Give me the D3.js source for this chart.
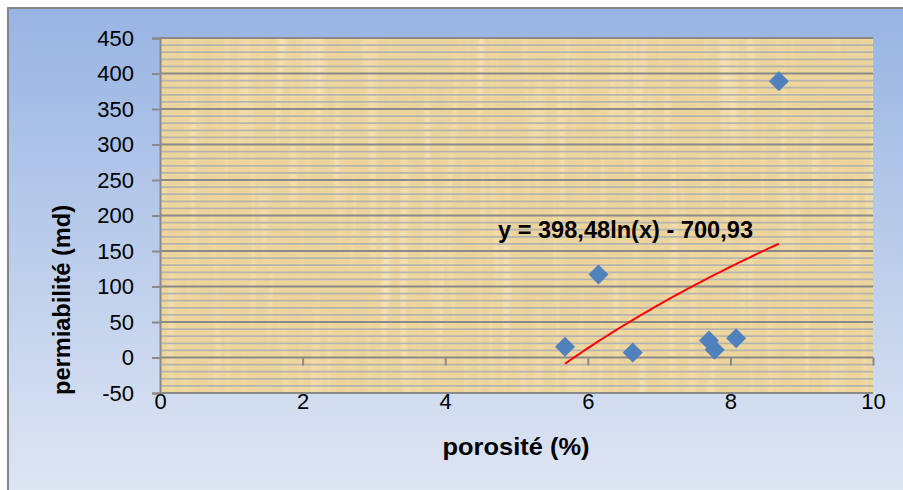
<!DOCTYPE html>
<html lang="fr">
<head>
<meta charset="UTF-8">
<title>perméabilité vs porosité</title>
<script src="https://d3js.org/d3.v7.min.js"></script>
<style>
  body { margin: 0; background: #fff; }
  svg { display: block; font-family: "Liberation Sans", Arial, sans-serif; }
</style>
</head>
<body>
<svg id="chart" width="903" height="490"></svg>
<script>
// data
const porosity = [5.68, 6.15, 6.63, 7.70, 7.78, 8.08, 8.68];
const permeability = [15, 117, 7, 24, 11, 27, 389];
const xTicks = [0, 2, 4, 6, 8, 10];
const yTicks = [-50, 0, 50, 100, 150, 200, 250, 300, 350, 400, 450];
// log trendline y = a ln(x) + b (as printed on the chart)
const trendA = 398.48, trendB = -700.93;
const trendLabel = "y = 398,48ln(x) - 700,93";

const svg = d3.select("#chart");
const defs = svg.append("defs");

// chart background gradient
const bg = defs.append("linearGradient").attr("id", "bg").attr("x1", 0).attr("y1", 0).attr("x2", 0).attr("y2", 1);
bg.append("stop").attr("offset", "0%").attr("stop-color", "#98b4e3");
bg.append("stop").attr("offset", "100%").attr("stop-color", "#dfe6f3");

// parchment-ish texture for the plot area
const tex = defs.append("filter").attr("id", "paper").attr("x", 0).attr("y", 0).attr("width", 1).attr("height", 1);
tex.append("feTurbulence").attr("type", "fractalNoise").attr("baseFrequency", "0.09 0.006")
    .attr("numOctaves", 2).attr("seed", 4).attr("result", "n");
tex.append("feColorMatrix").attr("in", "n").attr("type", "matrix")
    .attr("values", "0 0 0 0 0.80  0 0 0 0 0.64  0 0 0 0 0.36  1.6 0 0 0 -0.70").attr("result", "dark");
tex.append("feColorMatrix").attr("in", "n").attr("type", "matrix")
    .attr("values", "0 0 0 0 0.99  0 0 0 0 0.92  0 0 0 0 0.74  -1.6 0 0 0 0.74").attr("result", "light");
tex.append("feMerge").call(m => {
  m.append("feMergeNode").attr("in", "dark");
  m.append("feMergeNode").attr("in", "light");
});

// outer area
svg.append("rect").attr("x", 8).attr("y", 8).attr("width", 903).attr("height", 490)
    .attr("fill", "url(#bg)").attr("stroke", "#858585").attr("stroke-width", 2);

const plotL = 160, plotR = 873, plotT = 38, plotB = 393;
const x = d3.scaleLinear().domain([0, 10]).range([plotL, plotR]);
const y = d3.scaleLinear().domain([-50, 450]).range([plotB, plotT]);

// plot area
svg.append("rect").attr("x", plotL).attr("y", plotT).attr("width", plotR - plotL).attr("height", plotB - plotT)
    .attr("fill", "#eed59c");
svg.append("rect").attr("x", plotL).attr("y", plotT).attr("width", plotR - plotL).attr("height", plotB - plotT)
    .attr("filter", "url(#paper)").attr("opacity", 0.8);

// minor gridlines every 10
svg.append("g").selectAll("line")
  .data(d3.range(-40, 450, 10).filter(v => v % 50 !== 0))
  .join("line")
    .attr("x1", plotL).attr("x2", plotR)
    .attr("y1", d => y(d)).attr("y2", d => y(d))
    .attr("stroke", "#b5b4b0").attr("stroke-width", 1.8);

// major gridlines
svg.append("g").selectAll("line")
  .data(yTicks)
  .join("line")
    .attr("x1", plotL).attr("x2", plotR)
    .attr("y1", d => y(d)).attr("y2", d => y(d))
    .attr("stroke", "#8a8a8a").attr("stroke-width", 2);

// y axis
const yAxis = svg.append("g").attr("transform", `translate(${plotL},0)`)
    .call(d3.axisLeft(y).tickValues(yTicks).tickSize(8).tickPadding(18).tickFormat(d => String(d)));
yAxis.select(".domain").attr("stroke", "#8a8a8a").attr("stroke-width", 2);
yAxis.selectAll(".tick line").attr("stroke", "#8a8a8a").attr("stroke-width", 2);
yAxis.selectAll("text").attr("font-size", 22).attr("fill", "#000").attr("font-family", "Liberation Sans, Arial, sans-serif");

// x tick marks sit on the zero line
const xMarks = svg.append("g").attr("transform", `translate(0,${y(0)})`)
    .call(d3.axisBottom(x).tickValues(xTicks.slice(1)).tickSize(8).tickFormat(""));
xMarks.select(".domain").remove();
xMarks.selectAll(".tick line").attr("stroke", "#8a8a8a").attr("stroke-width", 2);

// x labels sit below the plot
const xAxis = svg.append("g").attr("transform", `translate(0,${plotB})`)
    .call(d3.axisBottom(x).tickValues(xTicks).tickSize(0).tickPadding(0).tickFormat(d => String(d)));
xAxis.select(".domain").remove();
xAxis.selectAll("text").attr("font-size", 22).attr("fill", "#000").attr("font-family", "Liberation Sans, Arial, sans-serif");

// trendline
const xs = d3.range(80 + 1).map(i => d3.min(porosity) + i * (d3.max(porosity) - d3.min(porosity)) / 80);
svg.append("path")
    .datum(xs)
    .attr("d", d3.line().x(d => x(d)).y(d => y(trendA * Math.log(d) + trendB)))
    .attr("fill", "none").attr("stroke", "#ff0000").attr("stroke-width", 2);

// points
svg.append("g").selectAll("path")
  .data(porosity.map((p, i) => [p, permeability[i]]))
  .join("path")
    .attr("d", d3.symbol(d3.symbolSquare, 200))
    .attr("transform", d => `translate(${x(d[0])},${y(d[1])}) rotate(45)`)
    .attr("fill", "#4f81bd");

// equation
svg.append("text").attr("x", 498).attr("y", 238)
    .attr("font-size", 23).attr("font-weight", "bold")
    .attr("textLength", 255).attr("lengthAdjust", "spacingAndGlyphs")
    .text(trendLabel);

// axis titles
svg.append("text").attr("x", 516).attr("y", 455).attr("text-anchor", "middle")
    .attr("font-size", 24).attr("font-weight", "bold")
    .attr("textLength", 147).attr("lengthAdjust", "spacingAndGlyphs")
    .text("porosité (%)");
svg.append("text").attr("transform", "translate(70,300) rotate(-90)").attr("text-anchor", "middle")
    .attr("font-size", 24).attr("font-weight", "bold")
    .attr("textLength", 190).attr("lengthAdjust", "spacingAndGlyphs")
    .text("permiabilité (md)");
</script>
</body>
</html>
